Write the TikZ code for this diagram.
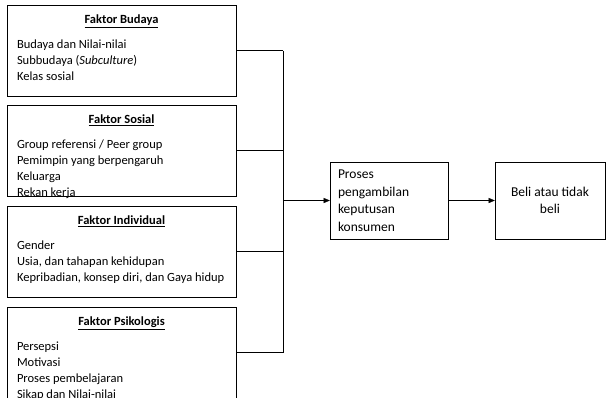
\documentclass[tikz,border=0pt]{standalone}
\usepackage{fontspec}
\setmainfont{Carlito}
\usetikzlibrary{positioning,arrows}
\tikzset{
  factor/.style={draw=black, thin, minimum width=229pt, minimum height=91pt, inner sep=0pt},
  heading/.style={inner sep=0pt, font=\fontsize{12.5}{16}\selectfont\bfseries},
  items/.style={inner sep=0pt, align=left, font=\fontsize{12.5}{16}\selectfont},
  stage/.style={draw=black, thin, minimum height=77pt, inner ysep=0pt, font=\fontsize{13.5}{17.5}\selectfont},
  link/.style={draw=black, thin},
  flow/.style={draw=black, thin, -triangle 45}
}

\begin{document}
\begin{tikzpicture}[x=1pt, y=1pt]
    \useasboundingbox (0,0) rectangle (606,-397);
    % the four groups of factors
    \node[factor] (budaya) at (121.5,-50.5) {};
    \node[factor] (sosial) at (121.5,-150.5) {};
    \node[factor] (individu) at (121.5,-251.5) {};
    \node[factor] (psiko) at (121.5,-352.5) {};
    %
    \node[heading, below=10pt of budaya.north] (budaya-t) {\underline{Faktor Budaya}};
    \node[items, below right=35pt and 10pt of budaya.north west] (budaya-i)
      {Budaya dan Nilai-nilai\\Subbudaya (\textit{Subculture})\\Kelas sosial};
    \node[heading, below=10pt of sosial.north] (sosial-t) {\underline{Faktor Sosial}};
    \node[items, below right=35pt and 10pt of sosial.north west] (sosial-i)
      {Group referensi / Peer group\\Pemimpin yang berpengaruh\\Keluarga\\Rekan kerja};
    \node[heading, below=10pt of individu.north] (individu-t) {\underline{Faktor Individual}};
    \node[items, below right=35pt and 10pt of individu.north west] (individu-i)
      {Gender\\Usia, dan tahapan kehidupan\\Kepribadian, konsep diri, dan Gaya hidup};
    \node[heading, below=10pt of psiko.north] (psiko-t) {\underline{Faktor Psikologis}};
    \node[items, below right=35pt and 10pt of psiko.north west] (psiko-i)
      {Persepsi\\Motivasi\\Proses pembelajaran\\Sikap dan Nilai-nilai};
    % decision and outcome
    \node[stage, text width=102pt, inner xsep=8pt, align=left] (proses) at (389,-200.5)
      {Proses\\pengambilan\\keputusan\\konsumen};
    \node[stage, minimum width=110pt, align=center] (beli) at (550,-200.5)
      {Beli atau tidak\\beli};
    %
    \coordinate[left=47pt of proses.west] (bus);
    \draw[link] (budaya.east) -- (budaya.east -| bus);
    \draw[link] (sosial.east) -- (sosial.east -| bus);
    \draw[link] (individu.east) -- (individu.east -| bus);
    \draw[link] (psiko.east) -- (psiko.east -| bus);
    \draw[link] (budaya.east -| bus) -- (psiko.east -| bus);
    \draw[flow] (bus) -- (proses.west);
    \draw[flow] (proses.east) -- (beli.west);
\end{tikzpicture}
\end{document}
